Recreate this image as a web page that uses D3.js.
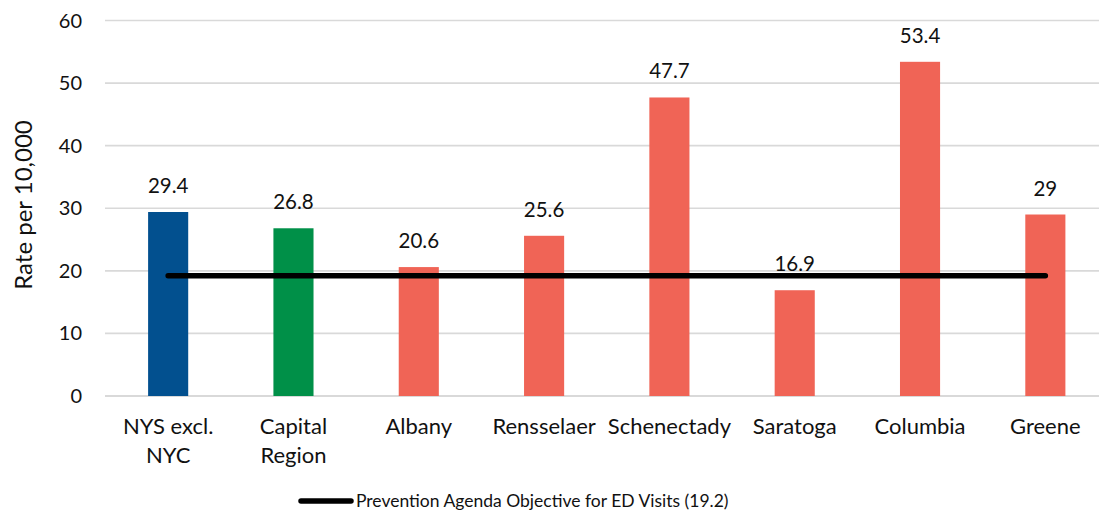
<!DOCTYPE html>
<html>
<head>
<meta charset="utf-8">
<script src="https://cdn.jsdelivr.net/npm/d3@7"></script>
<style>
  html, body { margin: 0; padding: 0; background: #fff; }
  svg { display: block; font-family: Lato, "Open Sans", sans-serif; }
</style>
</head>
<body>
<svg id="chart" width="1099" height="522"></svg>
<script>
// Emergency department visit rates by region/county
const categories = [["NYS excl.", "NYC"], ["Capital", "Region"], ["Albany"], ["Rensselaer"], ["Schenectady"], ["Saratoga"], ["Columbia"], ["Greene"]];
const rates = [29.4, 26.8, 20.6, 25.6, 47.7, 16.9, 53.4, 29];
const barColors = ["#02508F", "#009048", "#F06456", "#F06456", "#F06456", "#F06456", "#F06456", "#F06456"];
const objective = [19.2, 19.2, 19.2, 19.2, 19.2, 19.2, 19.2, 19.2];
const yTicks = [0, 10, 20, 30, 40, 50, 60];
const objectiveLabel = "Prevention Agenda Objective for ED Visits (19.2)";
const yTitle = "Rate per 10,000";

const textColor = "#111";
const svg = d3.select("#chart");
const keys = categories.map((c, i) => i);

const x = d3.scaleBand().domain(keys).range([105.5, 1108]).paddingInner(0.68).paddingOuter(0.34);
const y = d3.scaleLinear().domain([0, 60]).range([396, 20.5]);

// gridlines
svg.append("g").selectAll("line").data(yTicks).join("line")
  .attr("x1", 105).attr("x2", 1099)
  .attr("y1", d => y(d)).attr("y2", d => y(d))
  .attr("stroke", "#d9d9d9").attr("stroke-width", d => d === 0 ? 2 : 1.6);

// y tick labels
svg.append("g").selectAll("text").data(yTicks).join("text")
  .attr("x", 82).attr("y", d => y(d)).attr("dy", "0.35em")
  .attr("text-anchor", "end").attr("font-size", 20).attr("fill", textColor)
  .text(d => d);

// y axis title
svg.append("text")
  .attr("transform", `translate(32,205) rotate(-90)`)
  .attr("text-anchor", "middle").attr("font-size", 24).attr("fill", textColor)
  .text(yTitle);

// bars
svg.append("g").selectAll("rect").data(keys).join("rect")
  .attr("x", i => x(i)).attr("width", x.bandwidth())
  .attr("y", i => y(rates[i])).attr("height", i => y(0) - y(rates[i]))
  .attr("fill", i => barColors[i]);

// value labels
svg.append("g").selectAll("text").data(keys).join("text")
  .attr("x", i => x(i) + x.bandwidth() / 2).attr("y", i => y(rates[i]) - 19)
  .attr("text-anchor", "middle").attr("font-size", 20.5).attr("fill", textColor)
  .text(i => rates[i]);

// category labels
const cat = svg.append("g").selectAll("text").data(keys).join("text")
  .attr("text-anchor", "middle").attr("font-size", 22).attr("fill", textColor);
cat.each(function(i) {
  const t = d3.select(this);
  categories[i].forEach((line, j) => {
    t.append("tspan").attr("x", x(i) + x.bandwidth() / 2).attr("y", 434 + j * 29).text(line);
  });
});

// objective line
const line = d3.line().x((d, i) => x(i) + x.bandwidth() / 2).y(d => y(d));
svg.append("path").datum(objective)
  .attr("d", line).attr("fill", "none")
  .attr("stroke", "#000").attr("stroke-width", 5.5).attr("stroke-linecap", "round");

// legend
svg.append("line").attr("x1", 301).attr("x2", 351).attr("y1", 501).attr("y2", 501)
  .attr("stroke", "#000").attr("stroke-width", 5.5).attr("stroke-linecap", "round");
svg.append("text").attr("x", 356).attr("y", 507)
  .attr("font-size", 17.5).attr("fill", textColor).text(objectiveLabel);
</script>
</body>
</html>
